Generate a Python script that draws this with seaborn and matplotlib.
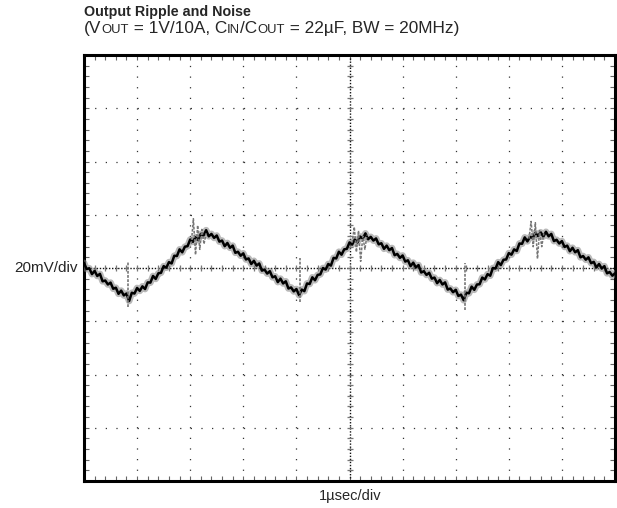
import matplotlib
matplotlib.use("Agg")
import matplotlib.pyplot as plt
from matplotlib.ticker import MultipleLocator
import numpy as np
import pandas as pd
import seaborn as sns

# scope trace: time in usec, ripple in mV (1us/div, 20mV/div)
trace_t = [0.00, 0.05, 0.10, 0.15, 0.20, 0.25, 0.30, 0.35, 0.40, 0.45,
           0.50, 0.55, 0.60, 0.65, 0.70, 0.75, 0.80, 0.85, 0.90, 0.95,
           1.00, 1.05, 1.10, 1.15, 1.20, 1.25, 1.30, 1.35, 1.40, 1.45,
           1.50, 1.55, 1.60, 1.65, 1.70, 1.75, 1.80, 1.85, 1.90, 1.95,
           2.00, 2.05, 2.10, 2.15, 2.20, 2.25, 2.30, 2.35, 2.40, 2.45,
           2.50, 2.55, 2.60, 2.65, 2.70, 2.75, 2.80, 2.85, 2.90, 2.95,
           3.00, 3.05, 3.10, 3.15, 3.20, 3.25, 3.30, 3.35, 3.40, 3.45,
           3.50, 3.55, 3.60, 3.65, 3.70, 3.75, 3.80, 3.85, 3.90, 3.95,
           4.00, 4.05, 4.10, 4.15, 4.20, 4.25, 4.30, 4.35, 4.40, 4.45,
           4.50, 4.55, 4.60, 4.65, 4.70, 4.75, 4.80, 4.85, 4.90, 4.95,
           5.00, 5.05, 5.10, 5.15, 5.20, 5.25, 5.30, 5.35, 5.40, 5.45,
           5.50, 5.55, 5.60, 5.65, 5.70, 5.75, 5.80, 5.85, 5.90, 5.95,
           6.00, 6.05, 6.10, 6.15, 6.20, 6.25, 6.30, 6.35, 6.40, 6.45,
           6.50, 6.55, 6.60, 6.65, 6.70, 6.75, 6.80, 6.85, 6.90, 6.95,
           7.00, 7.05, 7.10, 7.15, 7.20, 7.25, 7.30, 7.35, 7.40, 7.45,
           7.50, 7.55, 7.60, 7.65, 7.70, 7.75, 7.80, 7.85, 7.90, 7.95,
           8.00, 8.05, 8.10, 8.15, 8.20, 8.25, 8.30, 8.35, 8.40, 8.45,
           8.50, 8.55, 8.60, 8.65, 8.70, 8.75, 8.80, 8.85, 8.90, 8.95,
           9.00, 9.05, 9.10, 9.15, 9.20, 9.25, 9.30, 9.35, 9.40, 9.45,
           9.50, 9.55, 9.60, 9.65, 9.70, 9.75, 9.80, 9.85, 9.90, 9.95,
           10.00]
trace_mv = [1.9, -0.4, -0.1, -2.3, -1.1, -3.0, -2.2, -5.0, -4.7, -6.2,
            -5.5, -7.8, -7.4, -9.7, -8.5, -10.3, -9.6, -12.4, -9.3, -9.6,
            -7.5, -8.6, -6.9, -7.9, -5.4, -5.5, -3.0, -4.1, -2.0, -1.8,
            0.7, 0.1, 2.2, 1.7, 4.6, 4.5, 7.0, 5.9, 8.0, 8.2,
            10.7, 9.8, 11.6, 10.5, 12.8, 12.2, 14.2, 11.9, 12.8, 11.3,
            12.2, 9.9, 10.3, 8.2, 9.4, 7.6, 8.4, 5.7, 6.1, 4.6,
            5.5, 3.2, 3.6, 1.5, 2.7, 0.9, 1.7, -1.0, -0.6, -2.1,
            -1.2, -3.5, -3.1, -5.3, -4.0, -5.8, -5.0, -7.7, -7.3, -8.8,
            -7.9, -10.2, -8.1, -8.7, -5.8, -6.0, -3.5, -4.6, -2.6, -2.4,
            0.0, -0.6, 1.5, 0.9, 3.8, 3.6, 6.1, 5.0, 7.0, 7.2,
            9.6, 8.8, 10.7, 9.6, 11.8, 11.1, 13.0, 10.8, 11.7, 10.3,
            11.1, 8.9, 9.3, 7.2, 8.4, 6.7, 7.5, 4.8, 5.3, 3.8,
            4.7, 2.4, 2.9, 0.7, 2.0, 0.2, 1.1, -1.7, -1.2, -2.6,
            -1.8, -4.0, -3.6, -5.7, -4.5, -6.2, -5.4, -8.1, -7.7, -9.1,
            -8.2, -10.5, -10.0, -12.1, -9.3, -9.5, -7.0, -8.2, -6.2, -6.1,
            -3.6, -4.3, -2.3, -2.9, 0.0, -0.2, 2.2, 1.1, 3.1, 3.2,
            5.6, 5.0, 7.0, 6.4, 9.2, 9.1, 11.5, 10.0, 11.7, 11.3,
            13.2, 12.0, 13.4, 11.8, 13.6, 11.9, 12.8, 10.1, 10.6, 9.2,
            10.1, 7.9, 8.4, 6.3, 7.6, 5.9, 6.7, 4.0, 4.5, 3.1,
            4.0, 1.8, 2.3, 0.2, 1.5, -0.2, 0.7, -2.0, -1.5, -2.9,
            -2.0]

# ringing bursts at the trace peaks
ring_burst = [1] * 8 + [2] * 8 + [3] * 8
ring_t = [2.02, 2.06, 2.10, 2.14, 2.18, 2.22, 2.26, 2.30,
          5.05, 5.09, 5.13, 5.17, 5.21, 5.25, 5.29, 5.33,
          8.38, 8.42, 8.46, 8.50, 8.54, 8.58, 8.62, 8.66]
ring_mv = [9.0, 18.5, 5.0, 16.0, 7.0, 14.5, 9.0, 13.0,
           9.5, 15.4, 6.0, 14.0, 2.5, 12.0, 7.0, 12.5,
           11.0, 17.5, 8.0, 17.0, 3.5, 14.0, 8.0, 13.0]

# switching spikes at the trace valleys
spike_t = [0.83, 4.07, 7.18]
spike_lo = [-14.6, -12.8, -15.8]
spike_hi = [2.3, 3.8, 1.9]

title = "Output Ripple and Noise"
subtitle_parts = [("(V", False), ("OUT", True), (" = 1V/10A, C", False), ("IN", True),
                  ("/C", False), ("OUT", True), (" = 22\u00b5F, BW = 20MHz)", False)]
x_label = "1\u00b5sec/div"
y_label = "20mV/div"

sns.set_theme(style="white")
plt.rcParams["font.family"] = ["Liberation Sans", "DejaVu Sans"]
plt.rcParams["lines.scale_dashes"] = False

trace_df = pd.DataFrame({"t": trace_t, "mv": trace_mv})
ring_df = pd.DataFrame({"t": ring_t, "mv": ring_mv, "burst": ring_burst})

fig = plt.figure(figsize=(6.17, 5.08), dpi=100)
ax = fig.add_axes([84 / 617, 1 - 481 / 508, 531 / 617, 426 / 508])
ax.set_xlim(0, 10)
ax.set_ylim(-80, 80)

# graticule
ax.xaxis.set_major_locator(MultipleLocator(1))
ax.yaxis.set_major_locator(MultipleLocator(20))
ax.xaxis.set_minor_locator(MultipleLocator(0.2))
ax.yaxis.set_minor_locator(MultipleLocator(4))
ax.grid(True, which="major", color="#333333", linestyle=(0, (0.9, 6.75)), linewidth=0.9)
ax.tick_params(which="both", direction="in", top=True, right=True, bottom=True, left=True,
               length=3.5, width=0.8, color="#666666",
               labelbottom=False, labelleft=False)
ax.axhline(0, color="#111111", linestyle=(0, (1, 1.2)), linewidth=1.0, zorder=1)
ax.axvline(5, color="#111111", linestyle=(0, (1, 1.2)), linewidth=1.0, zorder=1)
minor_x = np.arange(0.2, 10, 0.2)
minor_y = np.arange(-76, 80, 4)
ax.plot(minor_x, np.zeros_like(minor_x), linestyle="none", marker="|", markersize=5,
        color="#777777", markeredgewidth=0.9, zorder=1)
ax.plot(np.full_like(minor_y, 5.0, dtype=float), minor_y, linestyle="none", marker="_",
        markersize=5, color="#777777", markeredgewidth=0.9, zorder=1)
for spine in ax.spines.values():
    spine.set_linewidth(2.2)
    spine.set_color("black")

# trace: grey persistence band, then the black line
sns.lineplot(data=trace_df, x="t", y="mv", color="#808080", linewidth=4.8, alpha=0.55,
             ax=ax, zorder=3)
sns.lineplot(data=trace_df, x="t", y="mv", color="black", linewidth=1.8, ax=ax, zorder=4)
sns.lineplot(data=ring_df, x="t", y="mv", units="burst", estimator=None, color="#777777",
             linewidth=1.1, linestyle=(0, (2, 1)), ax=ax, zorder=4)
ax.vlines(spike_t, spike_lo, spike_hi, colors="#777777", linestyles=(0, (2, 1)),
          linewidth=1.2, zorder=4)
ax.set_xlabel("")
ax.set_ylabel("")

fig.text(78 / 617, 1 - 268 / 508, y_label, ha="right", va="center", fontsize=11)
fig.text(350 / 617, 1 - 496 / 508, x_label, ha="center", va="center", fontsize=10.5)
fig.text(84 / 617, 1 - 12 / 508, title, ha="left", va="center", fontsize=10.3,
         fontweight="bold")

# subtitle with small-caps parts, laid out piece by piece
prev = None
for text, small in subtitle_parts:
    size = 9.4 if small else 12.4
    if prev is None:
        prev = fig.text(84 / 617, 1 - 36 / 508, text, ha="left", va="bottom", fontsize=size)
    else:
        prev = ax.annotate(text, xy=(1, 0), xycoords=prev, va="bottom", ha="left",
                           fontsize=size, annotation_clip=False)

fig.savefig("out.png", dpi=100)
